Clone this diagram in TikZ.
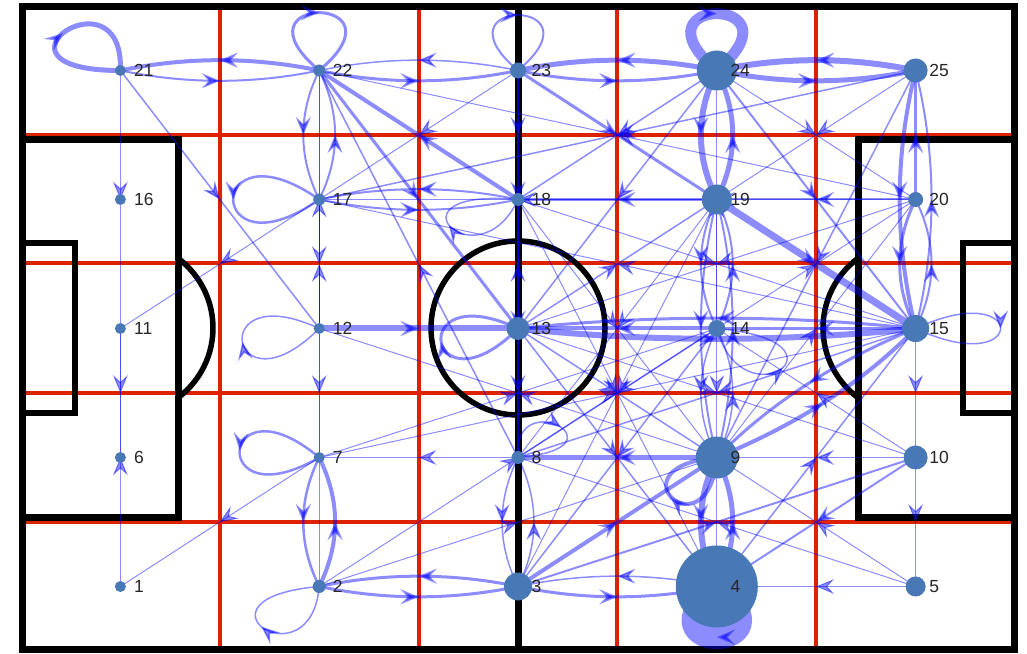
\documentclass[tikz,border=0pt]{standalone}
\usepackage{fontspec}
\setmainfont{Liberation Sans}
\usetikzlibrary{arrows.meta,decorations.markings}
\definecolor{pitchred}{RGB}{221,34,0}
\definecolor{edgeblue}{RGB}{0,0,255}
\definecolor{nodeblue}{RGB}{72,120,181}
\pgfdeclarelayer{pitch}
\pgfdeclarelayer{edges}
\pgfsetlayers{pitch,edges,main}
\tikzset{
  edge/.style={draw=edgeblue, opacity=0.45,
    decoration={markings, mark=at position 0.5 with {\arrow{Stealth[length=18pt,width=15pt,inset=7pt]}}},
    postaction={decorate}},
  player/.style={circle, fill=nodeblue, draw=none, inner sep=0pt},
  lbl/.style={anchor=west, inner sep=0pt, text=black!85, font=\fontsize{17.5}{17.5}\selectfont},
  redline/.style={draw=pitchred, line width=3.8pt},
  chalk/.style={draw=black, line width=7pt},
  thinchalk/.style={draw=black, line width=5.5pt},
}
\begin{document}
\begin{tikzpicture}[x=1pt,y=1pt]
\useasboundingbox (0,0) rectangle (1027,653);
% players
\foreach \k/\r in {1/5.5,2/6.5,3/14,4/41,5/10,6/5.5,7/5.5,8/6.5,9/21,10/12,11/5.5,12/5.5,13/11.5,14/8.5,15/13.5,16/5.5,17/6,18/6.5,19/15,20/7.5,21/5.5,22/6,23/8,24/20,25/12}{
  \pgfmathsetmacro\cc{mod(\k-1,5)}
  \pgfmathsetmacro\rr{int((\k-1)/5)}
  \pgfmathsetmacro\X{120.4+198.8*\cc}
  \pgfmathsetmacro\Y{66.5+129*\rr}
  \node[player, minimum size=2*\r pt] (n\k) at (\X,\Y) {};
  \node[lbl] (l\k) at (\X+13.5,\Y) {\k};
}
% pitch
\begin{pgfonlayer}{pitch}
\fill[white] (0,0) rectangle (1027,653);
\foreach \x in {220,419,617,816} \draw[redline] (\x,4) -- (\x,646);
\foreach \y in {518,390,260,131} \draw[redline] (22,\y) -- (1014,\y);
\draw[chalk] (22,4) rectangle (1014,646);
\draw[chalk] (518,4) -- (518,646);
\draw[thinchalk] (518,325) circle[radius=87];
\draw[chalk] (22,135) rectangle (178,513);
\draw[thinchalk] (22,240) rectangle (75,410);
\draw[chalk] (858,135) rectangle (1014,513);
\draw[thinchalk] (963,240) rectangle (1014,410);
\draw[thinchalk] (126,325) ++(-53.3:87) arc[start angle=-53.3,end angle=53.3,radius=87];
\draw[thinchalk] (910,325) ++(126.7:87) arc[start angle=126.7,end angle=233.3,radius=87];
\end{pgfonlayer}
% passes
\begin{pgfonlayer}{edges}
% curved (mutual) passes
\foreach \a/\b/\w in {22/21/4,21/22/2,22/23/3,23/22/1.5,24/23/5,23/24/3,25/24/6,24/25/5,
  22/17/2,17/22/2,2/7/4,7/2/2.5,17/18/2,18/17/2,2/3/3,3/2/3,8/3/1.5,3/8/1.5,3/4/3,4/3/1.5,
  24/19/6,19/24/5,19/14/2,14/19/2,19/9/2,9/19/2,14/9/1.5,9/14/1.5,9/4/6,4/9/5,
  25/15/4,15/25/2,20/15/3,15/20/2,13/15/6,15/13/3,9/15/4,15/9/3}{
  \pgfmathsetmacro\ca{mod(\a-1,5)}
  \pgfmathsetmacro\ra{int((\a-1)/5)}
  \pgfmathsetmacro\cb{mod(\b-1,5)}
  \pgfmathsetmacro\rb{int((\b-1)/5)}
  \pgfmathsetmacro\dc{\cb-\ca}
  \pgfmathsetmacro\dr{\rb-\ra}
  \pgfmathsetmacro\L{sqrt(\dc*\dc+\dr*\dr)}
  \pgfmathsetmacro\Xa{120.4+198.8*\ca}
  \pgfmathsetmacro\Ya{66.5+129*\ra}
  \pgfmathsetmacro\Xb{120.4+198.8*\cb}
  \pgfmathsetmacro\Yb{66.5+129*\rb}
  \pgfmathsetmacro\Mx{(\Xa+\Xb)/2+0.16*\dr/\L*198.8}
  \pgfmathsetmacro\My{(\Ya+\Yb)/2-0.16*\dc/\L*129}
  \pgfmathsetmacro\cxa{(\Xa+2*\Mx)/3}
  \pgfmathsetmacro\cya{(\Ya+2*\My)/3}
  \pgfmathsetmacro\cxb{(\Xb+2*\Mx)/3}
  \pgfmathsetmacro\cyb{(\Yb+2*\My)/3}
  \draw[edge, line width=\w pt] (n\a.center) .. controls (\cxa,\cya) and (\cxb,\cyb) .. (n\b.center);
}
% straight passes
\foreach \a/\b/\w in {21/11/1,11/6/1,1/11/1,21/12/1.5,17/11/1,7/1/1,
  22/7/1,12/17/1,12/22/1,17/2/1,12/13/6,8/7/1,19/17/1,
  23/18/2,23/13/1.5,13/18/1.5,18/8/1.5,13/8/1.5,
  18/22/4,22/13/3,8/22/1.5,23/17/1,23/19/3,
  20/22/1,25/17/1.5,24/18/1.5,24/13/1.5,
  24/20/1,25/19/1,24/15/2,25/9/1.5,20/25/3,
  19/18/3,20/19/2,20/18/1.5,19/15/7,14/24/1,19/4/1,
  9/8/5,10/9/1.5,5/4/1,10/5/1,15/10/1,10/4/2,5/9/1,5/8/1,
  3/9/4,3/10/2,19/3/1,2/9/1,2/14/1,7/14/1,7/15/1,
  14/13/4,15/14/3,13/9/1.5,13/4/1.5,14/8/1.5,14/3/1.5,13/10/1,18/9/1,18/4/1,
  13/19/1.5,19/8/1,18/15/1,15/17/1,15/8/1.5,4/15/1.5,14/20/1,10/14/1,9/20/1,9/12/1,20/13/1}{
  \draw[edge, line width=\w pt] (n\a.center) -- (n\b.center);
}
% self passes
\foreach \n/\o/\od/\i/\id/\w in {21/180/150/88/105/5,22/140/120/40/120/3,23/140/115/40/115/2,
  24/140/118/40/118/11,17/145/140/215/140/2.5,12/225/127/155/127/1.5,7/140/130/210/130/2.5,
  2/265/100/185/140/1.5,13/225/127/155/127/3,18/245/95/175/140/1.5,8/95/75/5/115/1.5,
  14/-75/100/-5/145/1.5,15/25/125/-25/125/1.5,9/265/100/185/110/4,4/-40/105/-140/105/24}{
  \draw[edge, line width=\w pt] (n\n.center) to[out=\o, in=\i, out distance=\od pt, in distance=\id pt] (n\n.center);
}
\end{pgfonlayer}
\end{tikzpicture}
\end{document}
